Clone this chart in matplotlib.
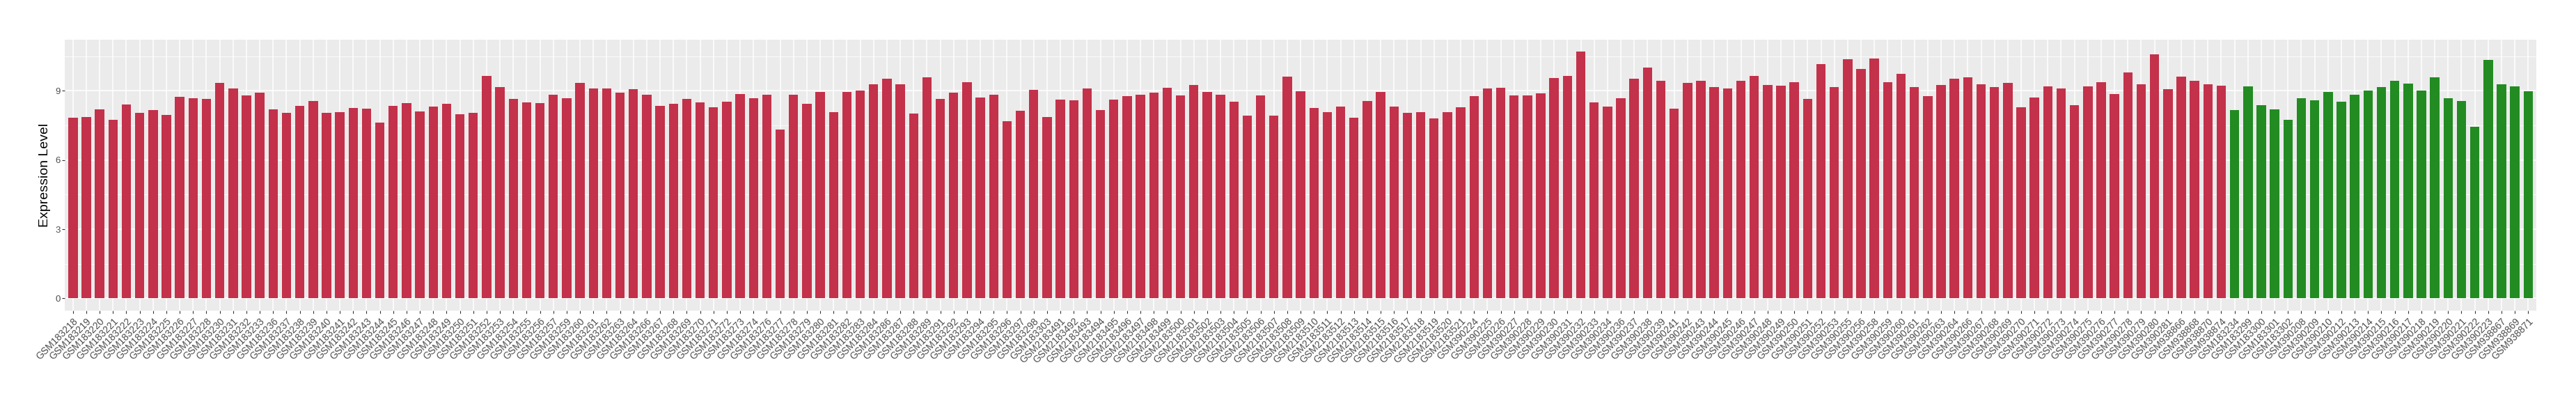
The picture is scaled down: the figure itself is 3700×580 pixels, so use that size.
import numpy as np
import matplotlib
matplotlib.use("Agg")
import matplotlib.pyplot as plt

# ─────────────────────────────────────────
# Data
# ─────────────────────────────────────────
tumor_samples = [
    "GSM183218", "GSM183219", "GSM183220", "GSM183221", "GSM183222", "GSM183223",
    "GSM183224", "GSM183225", "GSM183226", "GSM183227", "GSM183228", "GSM183230",
    "GSM183231", "GSM183232", "GSM183233", "GSM183236", "GSM183237", "GSM183238",
    "GSM183239", "GSM183240", "GSM183241", "GSM183242", "GSM183243", "GSM183244",
    "GSM183245", "GSM183246", "GSM183247", "GSM183248", "GSM183249", "GSM183250",
    "GSM183251", "GSM183252", "GSM183253", "GSM183254", "GSM183255", "GSM183256",
    "GSM183257", "GSM183259", "GSM183260", "GSM183261", "GSM183262", "GSM183263",
    "GSM183264", "GSM183266", "GSM183267", "GSM183268", "GSM183269", "GSM183270",
    "GSM183271", "GSM183272", "GSM183273", "GSM183274", "GSM183276", "GSM183277",
    "GSM183278", "GSM183279", "GSM183280", "GSM183281", "GSM183282", "GSM183283",
    "GSM183284", "GSM183286", "GSM183287", "GSM183288", "GSM183289", "GSM183291",
    "GSM183292", "GSM183293", "GSM183294", "GSM183295", "GSM183296", "GSM183297",
    "GSM183298", "GSM183303",
    "GSM2183491", "GSM2183492", "GSM2183493", "GSM2183494", "GSM2183495", "GSM2183496",
    "GSM2183497", "GSM2183498", "GSM2183499", "GSM2183500", "GSM2183501", "GSM2183502",
    "GSM2183503", "GSM2183504", "GSM2183505", "GSM2183506", "GSM2183507", "GSM2183508",
    "GSM2183509", "GSM2183510", "GSM2183511", "GSM2183512", "GSM2183513", "GSM2183514",
    "GSM2183515", "GSM2183516", "GSM2183517", "GSM2183518", "GSM2183519", "GSM2183520",
    "GSM2183521",
    "GSM390224", "GSM390225", "GSM390226", "GSM390227", "GSM390228", "GSM390229",
    "GSM390230", "GSM390231", "GSM390232", "GSM390233", "GSM390234", "GSM390236",
    "GSM390237", "GSM390238", "GSM390239", "GSM390241", "GSM390242", "GSM390243",
    "GSM390244", "GSM390245", "GSM390246", "GSM390247", "GSM390248", "GSM390249",
    "GSM390250", "GSM390251", "GSM390252", "GSM390253", "GSM390255", "GSM390256",
    "GSM390258", "GSM390259", "GSM390260", "GSM390261", "GSM390262", "GSM390263",
    "GSM390264", "GSM390266", "GSM390267", "GSM390268", "GSM390269", "GSM390270",
    "GSM390271", "GSM390272", "GSM390273", "GSM390274", "GSM390275", "GSM390276",
    "GSM390277", "GSM390278", "GSM390279", "GSM390280", "GSM390281",
    "GSM938866", "GSM938868", "GSM938870", "GSM938874",
]
tumor_values = [
    7.82, 7.85, 8.19, 7.73, 8.40, 8.04, 8.16, 7.94, 8.73, 8.67, 8.64, 9.33,
    9.09, 8.79, 8.91, 8.19, 8.04, 8.34, 8.55, 8.04, 8.07, 8.25, 8.22, 7.61,
    8.34, 8.46, 8.10, 8.31, 8.43, 7.98, 8.04, 9.66, 9.15, 8.64, 8.49, 8.46,
    8.82, 8.67, 9.33, 9.09, 9.09, 8.91, 9.06, 8.82, 8.34, 8.43, 8.64, 8.49,
    8.28, 8.52, 8.85, 8.67, 8.82, 7.31, 8.82, 8.43, 8.94, 8.07, 8.94, 9.00,
    9.27, 9.51, 9.27, 8.01, 9.60, 8.64, 8.91, 9.36, 8.70, 8.82, 7.67, 8.13,
    9.03, 7.85,
    8.61, 8.58, 9.09, 8.16, 8.61, 8.76, 8.82, 8.91, 9.12, 8.79, 9.24, 8.94,
    8.82, 8.52, 7.91, 8.79, 7.91, 9.63, 8.97, 8.25, 8.07, 8.31, 7.82, 8.55,
    8.94, 8.31, 8.04, 8.07, 7.79, 8.07, 8.28,
    8.76, 9.09, 9.12, 8.79, 8.79, 8.88, 9.54, 9.66, 10.69, 8.49, 8.31, 8.67,
    9.51, 10.02, 9.42, 8.22, 9.33, 9.42, 9.15, 9.09, 9.42, 9.66, 9.24, 9.21,
    9.36, 8.64, 10.17, 9.15, 10.36, 9.96, 10.39, 9.36, 9.75, 9.15, 8.76, 9.24,
    9.51, 9.57, 9.27, 9.15, 9.33, 8.28, 8.70, 9.18, 9.09, 8.37, 9.18, 9.36,
    8.85, 9.81, 9.27, 10.57, 9.06,
    9.61, 9.42, 9.28, 9.21,
]

normal_samples = [
    "GSM183234", "GSM183299", "GSM183300", "GSM183301", "GSM183302",
    "GSM390208", "GSM390209", "GSM390210", "GSM390212", "GSM390213", "GSM390214",
    "GSM390215", "GSM390216", "GSM390217", "GSM390218", "GSM390219", "GSM390220",
    "GSM390221", "GSM390222", "GSM390223", "GSM938867", "GSM938869", "GSM938871",
]
normal_values = [
    8.16, 9.19, 8.38, 8.20, 7.74,
    8.68, 8.59, 8.94, 8.52, 8.82, 9.01,
    9.16, 9.42, 9.31, 9.01, 9.58, 8.68,
    8.55, 7.44, 10.34, 9.28, 9.19, 8.98,
]

TUMOR_COLOR = "#C3314A"
NORMAL_COLOR = "#228B22"

# ─────────────────────────────────────────
# Figure
# ─────────────────────────────────────────
plt.rcParams["font.family"] = ["Liberation Sans", "DejaVu Sans"]

samples = tumor_samples + normal_samples
values = np.array(tumor_values + normal_values)
colors = [TUMOR_COLOR] * len(tumor_values) + [NORMAL_COLOR] * len(normal_values)
x = np.arange(len(samples))

fig = plt.figure(figsize=(37, 5.8), dpi=100)
ax = fig.add_axes([0.02522, 0.231, 0.95932, 0.6712])
ax.set_facecolor("#EBEBEB")

ax.bar(x, values, width=0.7, color=colors, zorder=3)

# ggplot-like scales: discrete x with 0.6 padding, continuous y with 5% expansion
vmax = values.max()
ax.set_xlim(-0.6, len(samples) - 0.4)
ax.set_ylim(-0.05 * vmax, 1.05 * vmax)

ax.set_xticks(x)
ax.set_xticklabels(samples, rotation=45, ha="right", va="top",
                   rotation_mode="anchor", fontsize=10, color="#4D4D4D")
ax.set_yticks([0, 3, 6, 9])
ax.set_yticks([1.5, 4.5, 7.5, 10.5], minor=True)
ax.tick_params(axis="y", which="major", labelsize=9.5, labelcolor="#4D4D4D",
               length=3, width=0.8, color="#333333", pad=1.5)
ax.tick_params(axis="y", which="minor", length=0)
ax.tick_params(axis="x", length=3, width=0.8, color="#333333", pad=2.5)

ax.grid(which="major", color="white", linewidth=1.1, zorder=0)
ax.grid(which="minor", axis="y", color="white", linewidth=0.55, zorder=0)
ax.set_axisbelow(True)
for spine in ax.spines.values():
    spine.set_visible(False)

ax.set_ylabel("Expression Level", fontsize=14, labelpad=5)

plt.savefig("out.png", dpi=100)
plt.close()
